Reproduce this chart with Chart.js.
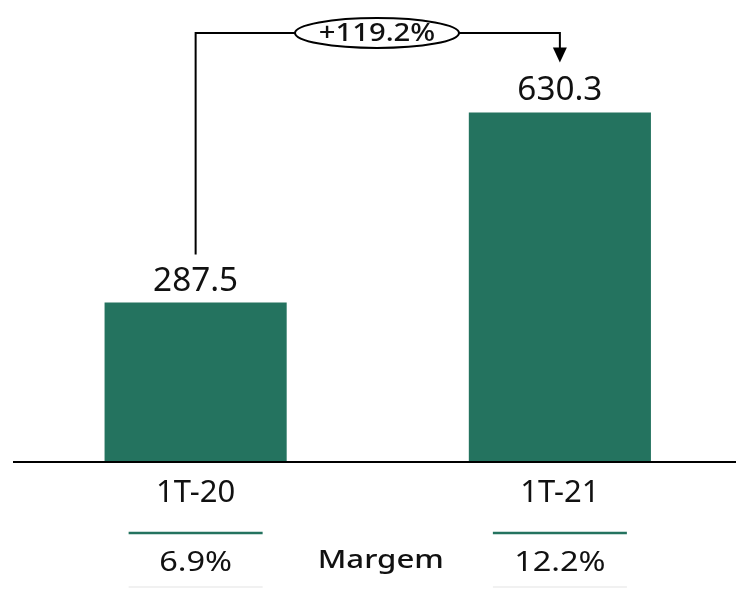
<!DOCTYPE html>
<html lang="pt">
<head>
  <meta charset="UTF-8" />
  <title>EBITDA 1T-21</title>
  <script src="https://cdn.jsdelivr.net/npm/chart.js"></script>
  <style>
    html, body { margin: 0; padding: 0; background: #fff; overflow: hidden; }
    #wrap { width: 742px; height: 590px; position: relative; }
  </style>
</head>
<body>
  <div id="wrap"><canvas id="chart"></canvas></div>

  <script>
    const categories = ["1T-20", "1T-21"];
    const values = [287.5, 630.3];
    const margins = ["6.9%", "12.2%"];
    const marginLabel = "Margem";
    const growthLabel = "+119.2%";

    const green = "#24735f";
    const ink = "#111111";
    const font = "'Noto Sans', sans-serif";

    // centred text, stretched horizontally to imitate the wide original face
    function text(ctx, str, x, y, f, stretch) {
      ctx.save();
      ctx.font = f;
      ctx.translate(x, y);
      ctx.scale(stretch, 1);
      ctx.fillText(str, 0, 0);
      ctx.restore();
    }

    // extra drawing: baseline, value labels, growth arrow, margin rows
    const extras = {
      id: "extras",
      afterDatasetsDraw(chart) {
        const ctx = chart.ctx;
        const x = chart.scales.x;
        const y = chart.scales.y;
        const base = chart.chartArea.bottom;
        const cx = categories.map((c, i) => x.getPixelForValue(i));

        ctx.save();
        // baseline
        ctx.strokeStyle = "#000";
        ctx.lineWidth = 2;
        ctx.beginPath();
        ctx.moveTo(13, base);
        ctx.lineTo(chart.width, base);
        ctx.stroke();

        // value labels
        ctx.fillStyle = ink;
        ctx.textAlign = "center";
        ctx.textBaseline = "alphabetic";
        values.forEach((v, i) => {
          text(ctx, v.toFixed(1), cx[i], y.getPixelForValue(v) - 12, "32px " + font, 1.04);
        });

        // category labels
        ctx.textBaseline = "middle";
        categories.forEach((c, i) => text(ctx, c, cx[i], base + 31, "31px " + font, 1.0));

        // margin rows
        margins.forEach((m, i) => {
          ctx.strokeStyle = green;
          ctx.lineWidth = 2.5;
          ctx.beginPath();
          ctx.moveTo(cx[i] - 67, base + 71);
          ctx.lineTo(cx[i] + 67, base + 71);
          ctx.stroke();
          ctx.strokeStyle = "#ececec";
          ctx.lineWidth = 1.5;
          ctx.beginPath();
          ctx.moveTo(cx[i] - 67, base + 125);
          ctx.lineTo(cx[i] + 67, base + 125);
          ctx.stroke();
          ctx.fillStyle = ink;
          text(ctx, m, cx[i], base + 101, "28px " + font, 1.16);
        });
        text(ctx, marginLabel, (cx[0] + cx[1]) / 2 + 3, base + 99, "500 26px " + font, 1.2);

        // growth arrow
        const topY = 33;
        const startY = y.getPixelForValue(values[0]) - 48;
        const tipY = y.getPixelForValue(values[1]) - 50;
        ctx.strokeStyle = "#000";
        ctx.lineWidth = 2;
        ctx.beginPath();
        ctx.moveTo(cx[0], startY);
        ctx.lineTo(cx[0], topY);
        ctx.lineTo(cx[1], topY);
        ctx.lineTo(cx[1], tipY - 14);
        ctx.stroke();
        ctx.fillStyle = "#000";
        ctx.beginPath();
        ctx.moveTo(cx[1] - 7, tipY - 15);
        ctx.lineTo(cx[1] + 7, tipY - 15);
        ctx.lineTo(cx[1], tipY);
        ctx.closePath();
        ctx.fill();

        // growth bubble
        const ex = 377;
        ctx.fillStyle = "#fff";
        ctx.lineWidth = 2;
        ctx.beginPath();
        ctx.ellipse(ex, topY, 82, 15, 0, 0, Math.PI * 2);
        ctx.fill();
        ctx.stroke();
        ctx.fillStyle = ink;
        text(ctx, growthLabel, ex, topY + 1, "500 25px " + font, 1.17);
        ctx.restore();
      }
    };

    new Chart(document.getElementById("chart"), {
      type: "bar",
      data: {
        labels: categories,
        datasets: [{
          data: values,
          backgroundColor: green,
          barPercentage: 0.5,
          categoryPercentage: 1
        }]
      },
      options: {
        responsive: true,
        maintainAspectRatio: false,
        animation: false,
        layout: { padding: { left: 13.5, right: 0, top: 18.4, bottom: 128 } },
        plugins: { legend: { display: false }, tooltip: { enabled: false } },
        scales: {
          x: { display: false },
          y: { display: false, min: 0, max: 800 }
        }
      },
      plugins: [extras]
    });
  </script>
</body>
</html>
